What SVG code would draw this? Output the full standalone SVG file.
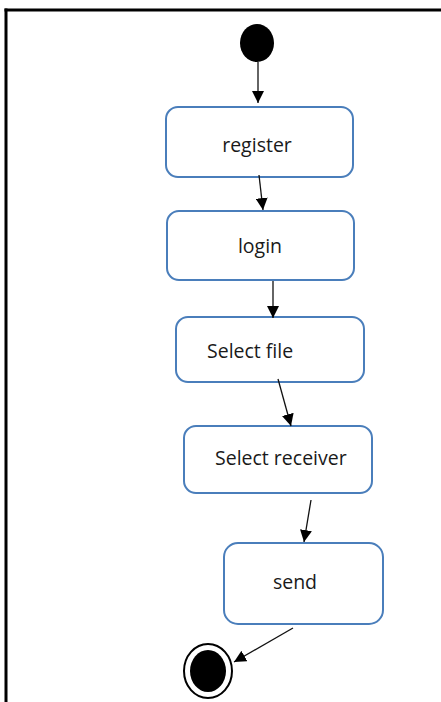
<svg xmlns="http://www.w3.org/2000/svg" width="441" height="702" viewBox="0 0 441 702">
<style>
.box{fill:#fff;stroke:#4a7ebb;stroke-width:2}
.lbl{font-family:"Open Sans","Liberation Sans",sans-serif;font-size:19.5px;fill:#1a1a1a}
.edge{stroke:#111;stroke-width:1.3;fill:none;marker-end:url(#ah)}
</style>
<defs>
<marker id="ah" viewBox="0 0 10 10" refX="10" refY="5" markerWidth="12" markerHeight="12" markerUnits="userSpaceOnUse" orient="auto">
<path d="M0,0 L10,5 L0,10 z" fill="#000"/>
</marker>
</defs>
<rect width="441" height="702" fill="#fff"/>
<g id="frame" stroke="#000" stroke-width="3" fill="none">
<line x1="4.5" y1="10" x2="441" y2="10"/>
<line x1="6" y1="8.5" x2="6" y2="702"/>
</g>
<g id="start"><ellipse cx="257" cy="43" rx="17" ry="19" fill="#000"/></g>
<g id="register"><rect class="box" x="166" y="107" width="187" height="70" rx="12"/><text class="lbl" x="257" y="152" text-anchor="middle">register</text></g>
<g id="login"><rect class="box" x="167" y="211" width="187" height="69" rx="12"/><text class="lbl" x="260" y="253" text-anchor="middle">login</text></g>
<g id="selectfile"><rect class="box" x="176" y="317" width="188" height="65" rx="12"/><text class="lbl" x="207" y="358">Select file</text></g>
<g id="selectreceiver"><rect class="box" x="184" y="426" width="188" height="67" rx="12"/><text class="lbl" x="215" y="465">Select receiver</text></g>
<g id="send"><rect class="box" x="224" y="543" width="159" height="81" rx="14"/><text class="lbl" x="295" y="589" text-anchor="middle">send</text></g>
<g id="end"><ellipse cx="208" cy="671" rx="24" ry="27" fill="#fff" stroke="#000" stroke-width="2"/><ellipse cx="208" cy="671" rx="18" ry="21" fill="#000"/></g>
<g id="connectors">
<line class="edge" x1="258" y1="62" x2="258" y2="103"/>
<line class="edge" x1="259" y1="175" x2="263" y2="210"/>
<line class="edge" x1="273" y1="281" x2="273" y2="318"/>
<line class="edge" x1="278" y1="379" x2="291" y2="426"/>
<line class="edge" x1="311" y1="500" x2="304" y2="542"/>
<line class="edge" x1="293" y1="628" x2="234" y2="662"/>
</g>
</svg>
